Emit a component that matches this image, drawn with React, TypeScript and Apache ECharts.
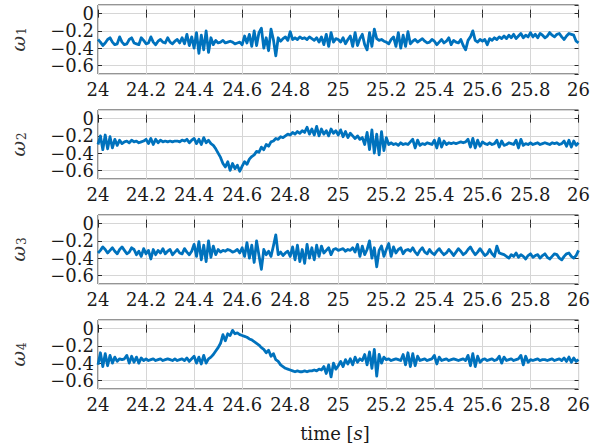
import React, { useEffect, useRef } from "react";
import * as echarts from "echarts";

// Sampling of the recorded angular-rate signals
const T0 = 24;
const DT = 0.01;

const xTicks = { min: 24, max: 26, interval: 0.2 };
const yRange = { min: -0.7, max: 0.1 };

const seriesNames = ["1", "2", "3", "4"];

const omega1 = [
  -0.30, -0.33, -0.37, -0.34, -0.30, -0.28, -0.33, -0.36, -0.35, -0.27,
  -0.33, -0.36, -0.35, -0.30, -0.28, -0.34, -0.35, -0.36, -0.28, -0.31,
  -0.35, -0.34, -0.27, -0.33, -0.36, -0.32, -0.30, -0.33, -0.34, -0.28,
  -0.33, -0.35, -0.32, -0.30, -0.34, -0.28, -0.35, -0.24, -0.37, -0.27,
  -0.40, -0.22, -0.46, -0.25, -0.42, -0.20, -0.45, -0.28, -0.36, -0.31,
  -0.34, -0.33, -0.31, -0.34, -0.33, -0.32, -0.33, -0.35, -0.34, -0.33,
  -0.36, -0.26, -0.34, -0.24, -0.38, -0.20, -0.37, -0.22, -0.17, -0.40,
  -0.28, -0.43, -0.18, -0.30, -0.49, -0.28, -0.32, -0.29, -0.27, -0.31,
  -0.21, -0.30, -0.28, -0.30, -0.27, -0.29, -0.28, -0.30, -0.27, -0.29,
  -0.31, -0.28, -0.33, -0.27, -0.36, -0.24, -0.38, -0.22, -0.33, -0.29,
  -0.30, -0.33, -0.28, -0.35, -0.30, -0.26, -0.38, -0.22, -0.37, -0.29,
  -0.24, -0.36, -0.42, -0.22, -0.38, -0.18, -0.29, -0.31, -0.30, -0.32,
  -0.33, -0.35, -0.30, -0.27, -0.38, -0.22, -0.40, -0.25, -0.38, -0.21,
  -0.35, -0.32, -0.30, -0.33, -0.31, -0.29, -0.32, -0.34, -0.33, -0.30,
  -0.32, -0.36, -0.33, -0.30, -0.34, -0.32, -0.28, -0.36, -0.31, -0.33,
  -0.34, -0.30, -0.37, -0.42, -0.31, -0.27, -0.20, -0.31, -0.33, -0.30,
  -0.32, -0.30, -0.36, -0.29, -0.31, -0.28, -0.30, -0.27, -0.29, -0.26,
  -0.29, -0.25, -0.28, -0.24, -0.29, -0.26, -0.23, -0.28, -0.25, -0.27,
  -0.22, -0.27, -0.24, -0.28, -0.23, -0.25, -0.28, -0.26, -0.22, -0.25,
  -0.27, -0.24, -0.23, -0.27, -0.30, -0.26, -0.23, -0.24, -0.25, -0.32,
  -0.34,
];

const omega2 = [
  -0.30, -0.20, -0.36, -0.19, -0.35, -0.21, -0.34, -0.24, -0.31, -0.25,
  -0.29, -0.27, -0.26, -0.28, -0.25, -0.27, -0.26, -0.28, -0.27, -0.26,
  -0.24, -0.29, -0.23, -0.30, -0.24, -0.28, -0.25, -0.27, -0.26, -0.27,
  -0.26, -0.27, -0.26, -0.26, -0.27, -0.25, -0.26, -0.24, -0.28, -0.25,
  -0.23, -0.29, -0.24, -0.30, -0.22, -0.28, -0.25, -0.29, -0.31, -0.35,
  -0.40, -0.45, -0.52, -0.56, -0.50, -0.60, -0.52, -0.58, -0.54, -0.61,
  -0.55, -0.50, -0.53, -0.47, -0.44, -0.42, -0.38, -0.39, -0.33, -0.36,
  -0.30, -0.32, -0.27, -0.26, -0.23, -0.24, -0.21, -0.22, -0.20, -0.18,
  -0.19, -0.16, -0.18, -0.15, -0.17, -0.14, -0.16, -0.10, -0.18, -0.12,
  -0.19, -0.09, -0.20, -0.12, -0.18, -0.14, -0.20, -0.12, -0.17, -0.14,
  -0.19, -0.13, -0.21, -0.15, -0.22, -0.17, -0.20, -0.23, -0.20, -0.24,
  -0.22, -0.30, -0.16, -0.36, -0.13, -0.40, -0.18, -0.42, -0.15, -0.37,
  -0.22, -0.30, -0.28, -0.30, -0.29, -0.31, -0.28, -0.30, -0.29, -0.30,
  -0.27, -0.24, -0.34, -0.25, -0.31, -0.29, -0.30, -0.28, -0.29, -0.30,
  -0.25, -0.34, -0.23, -0.33, -0.26, -0.30, -0.28, -0.29, -0.28, -0.29,
  -0.28, -0.27, -0.28, -0.27, -0.24, -0.33, -0.23, -0.34, -0.25, -0.32,
  -0.27, -0.29, -0.30, -0.28, -0.30, -0.29, -0.25, -0.33, -0.26, -0.31,
  -0.30, -0.28, -0.29, -0.30, -0.25, -0.34, -0.24, -0.31, -0.29, -0.30,
  -0.28, -0.30, -0.29, -0.28, -0.30, -0.29, -0.28, -0.29, -0.30, -0.28,
  -0.29, -0.28, -0.30, -0.29, -0.26, -0.32, -0.25, -0.33, -0.26, -0.31,
  -0.28,
];

const omega3 = [
  -0.34, -0.31, -0.27, -0.30, -0.34, -0.31, -0.28, -0.32, -0.35, -0.30,
  -0.27, -0.31, -0.35, -0.33, -0.28, -0.30, -0.36, -0.32, -0.38, -0.29,
  -0.35, -0.31, -0.41, -0.30, -0.36, -0.31, -0.34, -0.29, -0.35, -0.32,
  -0.30, -0.36, -0.33, -0.30, -0.34, -0.35, -0.29, -0.33, -0.36, -0.32,
  -0.24, -0.38, -0.21, -0.42, -0.25, -0.44, -0.20, -0.39, -0.26, -0.36,
  -0.30, -0.33, -0.31, -0.32, -0.30, -0.31, -0.33, -0.32, -0.30, -0.34,
  -0.28, -0.38, -0.22, -0.40, -0.25, -0.45, -0.20, -0.37, -0.53, -0.30,
  -0.36, -0.32, -0.38, -0.26, -0.13, -0.36, -0.33, -0.37, -0.34, -0.32,
  -0.38, -0.27, -0.42, -0.25, -0.44, -0.30, -0.46, -0.24, -0.40, -0.28,
  -0.42, -0.25, -0.38, -0.26, -0.34, -0.31, -0.28, -0.36, -0.30, -0.29,
  -0.31, -0.30, -0.29, -0.32, -0.30, -0.31, -0.28, -0.33, -0.24, -0.38,
  -0.26, -0.36, -0.30, -0.20, -0.40, -0.28, -0.50, -0.31, -0.26, -0.38,
  -0.30, -0.23, -0.38, -0.27, -0.34, -0.30, -0.28, -0.35, -0.31, -0.30,
  -0.32, -0.28, -0.33, -0.36, -0.31, -0.28, -0.33, -0.35, -0.30, -0.34,
  -0.36, -0.32, -0.29, -0.33, -0.36, -0.34, -0.30, -0.33, -0.37, -0.33,
  -0.29, -0.32, -0.36, -0.34, -0.30, -0.27, -0.32, -0.36, -0.33, -0.29,
  -0.33, -0.37, -0.35, -0.30, -0.35, -0.38, -0.26, -0.34, -0.35, -0.36,
  -0.38, -0.40, -0.36, -0.38, -0.34, -0.39, -0.36, -0.38, -0.41, -0.37,
  -0.35, -0.39, -0.37, -0.36, -0.40, -0.37, -0.35, -0.39, -0.41, -0.38,
  -0.35, -0.36, -0.40, -0.42, -0.38, -0.35, -0.34, -0.38, -0.40, -0.37,
  -0.31,
];

const omega4 = [
  -0.42, -0.28, -0.44, -0.29, -0.43, -0.31, -0.40, -0.33, -0.38, -0.35,
  -0.36, -0.35, -0.31, -0.40, -0.32, -0.39, -0.33, -0.40, -0.34, -0.37,
  -0.35, -0.37, -0.36, -0.35, -0.37, -0.36, -0.35, -0.37, -0.36, -0.35,
  -0.36, -0.37, -0.35, -0.37, -0.36, -0.35, -0.37, -0.34, -0.38, -0.35,
  -0.32, -0.40, -0.33, -0.41, -0.31, -0.40, -0.35, -0.33, -0.30, -0.26,
  -0.22, -0.17, -0.07, -0.14, -0.06, -0.08, -0.02, -0.06, -0.05, -0.07,
  -0.08, -0.09, -0.10, -0.12, -0.13, -0.15, -0.17, -0.19, -0.22, -0.24,
  -0.28, -0.25, -0.32, -0.29, -0.36, -0.38, -0.42, -0.44, -0.46, -0.47,
  -0.48, -0.49, -0.50, -0.49, -0.50, -0.50, -0.49, -0.50, -0.49, -0.49,
  -0.48, -0.49, -0.47, -0.48, -0.44, -0.52, -0.42, -0.56, -0.40, -0.47,
  -0.43, -0.38, -0.44, -0.36, -0.41, -0.35, -0.42, -0.33, -0.39, -0.35,
  -0.37, -0.30, -0.42, -0.27, -0.46, -0.24, -0.55, -0.30, -0.40, -0.33,
  -0.36, -0.35, -0.37, -0.36, -0.35, -0.36, -0.37, -0.30, -0.42, -0.28,
  -0.44, -0.29, -0.43, -0.32, -0.37, -0.36, -0.35, -0.37, -0.36, -0.35,
  -0.31, -0.41, -0.33, -0.37, -0.36, -0.35, -0.37, -0.36, -0.35, -0.36,
  -0.37, -0.36, -0.35, -0.37, -0.31, -0.43, -0.29, -0.44, -0.32, -0.39,
  -0.36, -0.35, -0.37, -0.36, -0.35, -0.37, -0.36, -0.32, -0.40, -0.33,
  -0.37, -0.36, -0.35, -0.37, -0.36, -0.35, -0.31, -0.42, -0.32, -0.39,
  -0.36, -0.37, -0.36, -0.35, -0.37, -0.36, -0.36, -0.37, -0.36, -0.35,
  -0.37, -0.36, -0.35, -0.37, -0.34, -0.38, -0.33, -0.39, -0.34, -0.38,
  -0.36,
];

const signals = [omega1, omega2, omega3, omega4];

const FONT = "DejaVu Serif";
const TEXT = "#1a1a1a";
const FRAME = "#2b2b2b";
const GRIDLINE = "#d6d6d6";
const LINE = "#0072BD";

const panelTops = [5, 110, 215, 320];
const panelHeight = 69;
const plotLeft = 87;
const plotRight = 10;

function formatTime(v: number) {
  return String(Number(v.toFixed(1)));
}

function formatValue(v: number) {
  const s = String(Number(v.toFixed(1)));
  return s.replace("-", "\u2212");
}

export default function App() {
  const ref = useRef<HTMLDivElement>(null);

  useEffect(() => {
    if (!ref.current) return;
    const chart = echarts.init(ref.current, null, { renderer: "svg" });

    const grids: any[] = [];
    const xAxes: any[] = [];
    const yAxes: any[] = [];
    const series: any[] = [];

    signals.forEach((values, k) => {
      grids.push({
        left: plotLeft,
        right: plotRight,
        top: panelTops[k],
        height: panelHeight,
        show: true,
        borderColor: FRAME,
        borderWidth: 1,
        backgroundColor: "transparent",
      });

      const baseX = {
        type: "value",
        gridIndex: k,
        min: xTicks.min,
        max: xTicks.max,
        interval: xTicks.interval,
        axisLine: { show: false },
        axisTick: { show: true, inside: true, length: 4, lineStyle: { color: FRAME } },
      };
      xAxes.push({
        ...baseX,
        position: "bottom",
        splitLine: { show: true, lineStyle: { color: GRIDLINE, width: 1 } },
        axisLabel: {
          show: true,
          margin: 6,
          color: TEXT,
          fontFamily: FONT,
          fontSize: 18,
          formatter: formatTime,
        },
      });
      xAxes.push({
        ...baseX,
        position: "top",
        splitLine: { show: false },
        axisLabel: { show: false },
      });

      const baseY = {
        type: "value",
        gridIndex: k,
        min: yRange.min,
        max: yRange.max,
        splitNumber: 4,
        axisLine: { show: false },
        axisTick: { show: true, inside: true, length: 4, lineStyle: { color: FRAME } },
      };
      yAxes.push({
        ...baseY,
        position: "left",
        name: `{w|ω}{s|${seriesNames[k]}}`,
        nameLocation: "middle",
        nameRotate: 90,
        nameGap: 70,
        nameTextStyle: {
          color: "#333",
          rich: {
            w: { fontFamily: FONT, fontStyle: "italic", fontSize: 19, color: "#333" },
            s: { fontFamily: FONT, fontSize: 12, color: "#333", padding: [9, 0, 0, 1] },
          },
        },
        splitLine: { show: true, lineStyle: { color: GRIDLINE, width: 1 } },
        axisLabel: {
          show: true,
          showMinLabel: false,
          showMaxLabel: false,
          margin: 4,
          color: TEXT,
          fontFamily: FONT,
          fontSize: 18,
          lineHeight: 15,
          formatter: formatValue,
        },
      });
      yAxes.push({
        ...baseY,
        position: "right",
        splitLine: { show: false },
        axisLabel: { show: false },
      });

      series.push({
        type: "line",
        xAxisIndex: 2 * k,
        yAxisIndex: 2 * k,
        showSymbol: false,
        symbol: "none",
        lineStyle: { color: LINE, width: 2.8, join: "round" },
        data: values.map((v, i) => [T0 + i * DT, v]),
      });
    });

    chart.setOption({
      animation: false,
      backgroundColor: "#ffffff",
      grid: grids,
      xAxis: xAxes,
      yAxis: yAxes,
      series,
      graphic: [
        {
          type: "text",
          x: 335,
          y: 433,
          style: {
            text: "{r|time [}{i|s}{r|]}",
            align: "center",
            verticalAlign: "middle",
            rich: {
              r: { fontFamily: FONT, fontSize: 18, fill: TEXT },
              i: { fontFamily: FONT, fontStyle: "italic", fontSize: 18, fill: TEXT },
            },
          },
        },
      ],
    });

    return () => chart.dispose();
  }, []);

  return (
    <div
      ref={ref}
      style={{ position: "fixed", left: 0, top: 0, width: 593, height: 446 }}
    />
  );
}
